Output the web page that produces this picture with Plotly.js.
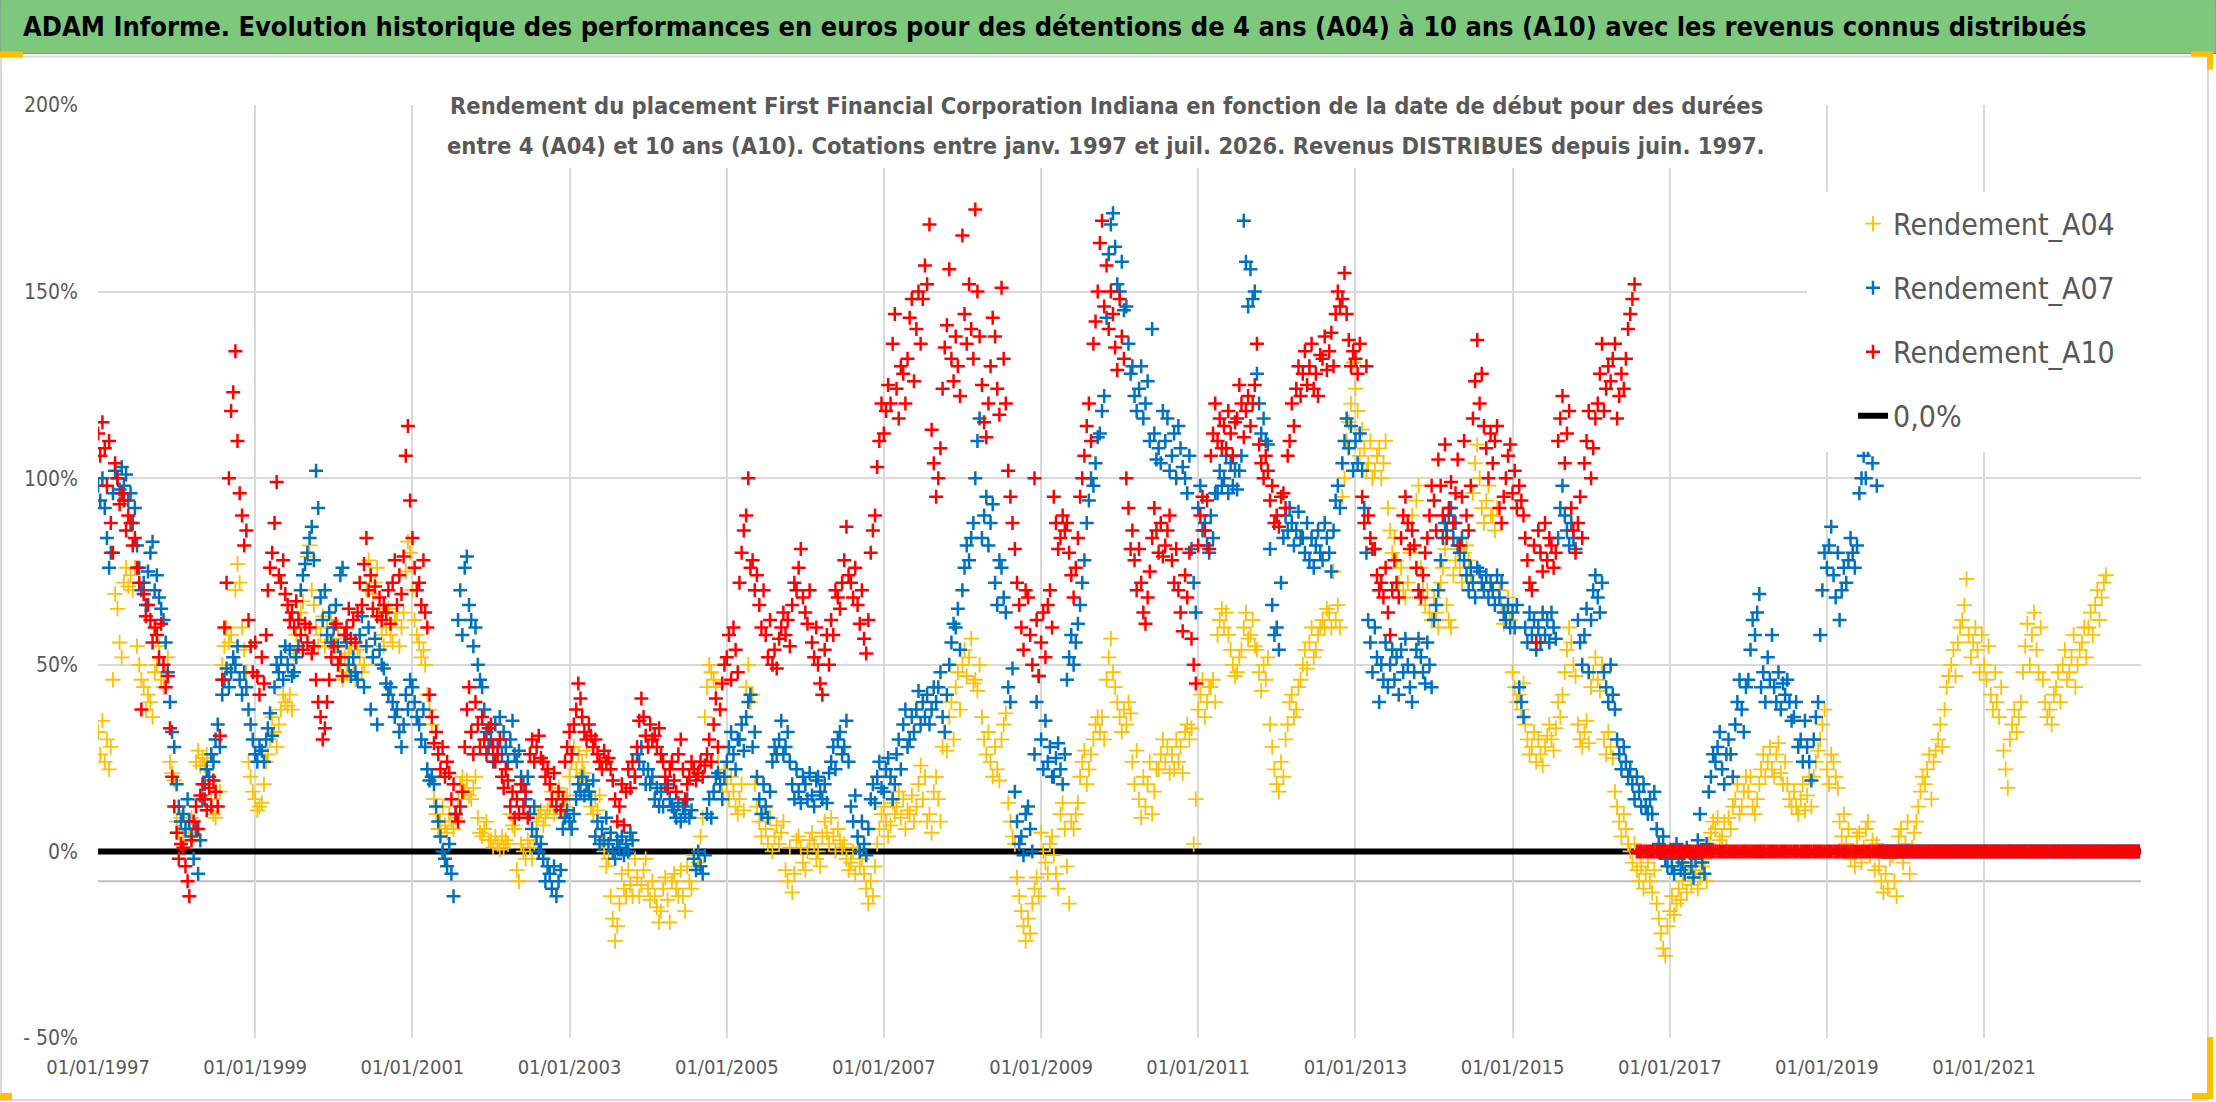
<!DOCTYPE html>
<html>
<head>
<meta charset="utf-8">
<script src="https://cdn.plot.ly/plotly-3.0.1.min.js"></script>
<style>
  html, body { margin: 0; padding: 0; background: #fff; }
  #chart { width: 2216px; height: 1102px; }
</style>
</head>
<body>
<div id="chart"></div>
<script>
// Rendement par date de début, en %, 3 lectures par mois à partir de janv. 1997
const a04 = [
  // 1997
  32,26,35, 24,30,22, 28,46,69, 65,56,52, 72,76,71, 74,70,76, 55,50,46, 44,38,42, 40,36,48, 50,55,46, 44,48,52, 24,21,19,
  // 1998
  8,5,9, 4,6,8, 5,9,4, 24,27,23, 25,23,26, 18,14,10, 9,12,16, 50,55,60, 56,58,52, 70,77,72, 60,54,48, 24,20,16,
  // 1999
  14,11,12, 13,18,24, 26,30,36, 32,28,34, 38,42,40, 39,42,38, 53,58,62, 64,67,60, 79,82,70, 66,60,55, 58,63,55, 60,56,62,
  // 2000
  57,55,60, 50,46,52, 48,53,55, 50,46,54, 52,48,50, 70,78,74, 69,72,76, 64,58,55, 60,65,58, 56,62,64, 55,60,64, 75,83,80,
  // 2001
  70,62,58, 56,52,54, 50,42,38, 34,14,10, 6,8,12, 7,5,10, 8,6,9, 14,18,20, 16,19,15, 14,17,20, 9,5,4, 6,8,3,
  // 2002
  3,1,4, 2,0.5,4, 1,3,2, 10,7,6, -5,-8,2, 0,-2,3, 1,-2,2, 8,10,11, 7,9,11, 12,16,10, 14,17,11, 9,12,15,
  // 2003
  20,24,28, 22,26,20, 24,21,27, 16,12,10, 14,11,15, 3,0,-4, -2,-12,-18, -24,-20,-14, -6,-10,-12, -5,-9,-12, -2,-7,-12, -9,-5,-2,
  // 2004
  -10,-13,-8, -12,-15,-19, -16,-10,-7, -13,-19,-8, -6,-10,-12, -5,-12,-16, -4,-8,-10, -1,-5,-3, 4,9,36, 44,50,48, 46,44,24, 20,16,22,
  // 2005
  18,14,20, 16,12,10, 14,18,11, 44,50,40, 42,18,12, 8,4,10, 6,2,9, 0,4,7, 2,5,8, -5,-8,1, -11,-6,3, 4,1,-3,
  // 2006
  -5,0,3, 5,2,-2, 0,-4,4, 8,5,2, 9,4,0, 6,3,1, 2,-2,-5, -3,0,-6, 1,-4,-2, -6,-10,-14, -8,-12,-4, 2,6,10,
  // 2007
  12,8,4, 7,13,10, 12,16,9, 14,6,11, 10,15,8, 12,18,23, 14,20,8, 10,5,16, 20,14,8, 28,32,27, 36,40,30, 44,48,38,
  // 2008
  50,54,47, 52,57,45, 46,43,50, 36,30,26, 32,24,20, 28,22,19, 30,34,37, 13,8,4, 2,-7,-12, -16,-20,-24, -18,-22,-14, -10,-7,-12,
  // 2009
  5,0,-3, -6,2,4, -1,-6,-10, 10,13,6, -4,-14,8, 6,10,13, 20,24,27, 18,22,26, 30,34,36, 32,36,30, 46,52,57, 48,44,40,
  // 2010
  36,32,38, 34,40,37, 24,18,27, 14,9,20, 12,18,24, 10,16,22, 22,26,30, 24,28,21, 26,22,30, 24,28,21, 32,34,30, 33,2,14,
  // 2011
  38,42,46, 36,40,44, 44,46,40, 58,62,65, 60,64,58, 54,50,47, 48,52,54, 60,64,57, 58,62,55, 54,48,43, 50,46,52, 34,28,22,
  // 2012
  18,16,24, 20,30,34, 40,42,36, 38,44,46, 50,54,49, 56,60,52, 54,58,60, 62,60,65, 64,60,75, 62,66,60, 95,100,110, 115,120,131,
  // 2013
  124,118,106, 113,108,102, 104,110,100, 102,106,108, 100,104,110, 92,86,80, 84,78,72, 76,70,68, 72,80,90, 82,94,98, 76,70,66, 70,64,62,
  // 2014
  68,64,60, 72,76,81, 66,62,60, 74,78,81, 76,72,80, 82,78,74, 96,104,109, 100,92,88, 94,98,90, 90,86,92, 70,66,61, 64,68,62,
  // 2015
  48,44,40, 42,38,45, 34,30,26, 28,32,24, 30,26,23, 28,31,34, 30,27,33, 40,36,42, 48,54,60, 56,50,47, 34,30,28, 32,35,29,
  // 2016
  44,48,52, 46,43,50, 30,26,32, 28,25,16, 12,8,4, 10,6,2, 0,-3,2, -5,-8,-4, -10,-6,-3, -8,-11,-5, -14,-18,-22, -26,-28,-20,
  // 2017
  -16,-12,-17, -14,-10,-13, -8,-4,-11, -6,-9,-3, -5,-10,-7, -4,-2,-8, 2,5,8, 6,9,3, 4,8,1, 9,6,12, 14,18,10, 12,16,20,
  // 2018
  16,20,12, 10,14,18, 22,26,20, 24,28,22, 20,26,29, 21,18,24, 18,14,12, 16,12,10, 14,18,11, 15,20,12, 20,24,27, 30,34,38,
  // 2019
  22,18,26, 24,20,17, 8,4,10, 2,6,-2, 0,-4,4, 5,-3,1, 6,8,-1, 3,-5,2, -4,-8,-11, -6,-10,-2, -1,-8,-12, 4,6,-3,
  // 2020
  2,8,-6, 1,5,8, 12,16,20, 18,22,26, 14,24,27, 30,34,28, 38,44,47, 50,54,47, 56,60,62, 66,73,58, 52,56,60, 54,48,58,
  // 2021
  50,46,55, 42,38,48, 40,36,44, 27,22,17, 30,34,38, 32,36,40, 48,55,61, 50,58,64, 54,48,60, 46,40,36, 38,34,42, 44,48,40,
  // 2022
  50,54,46, 48,52,58, 44,50,54, 56,60,52, 60,64,58, 66,70,62, 68,72,74
];

const a07 = [
  // 1997
  98,94,100, 92,84,76, 80,96,102, 100,97,103, 98,101,94, 96,88,92, 82,76,70, 72,66,75, 80,83,70, 74,68,65, 62,56,48, 40,32,28,
  // 1998
  18,12,8, 10,6,14, 8,4,-2, 6,-6,3, 14,18,22, 20,26,24, 30,34,28, 42,46,49, 44,48,52, 50,55,46, 42,48,44, 38,34,30,
  // 1999
  26,24,28, 27,24,30, 33,37,31, 44,50,48, 52,46,55, 50,54,47, 48,52,55, 70,74,77, 80,84,87, 78,102,92, 68,62,70, 58,64,56,
  // 2000
  60,66,55, 74,76,58, 56,50,47, 52,48,46, 58,63,44, 55,60,38, 52,57,34, 54,50,49, 45,42,44, 40,36,38, 32,28,34, 42,38,46,
  // 2001
  44,40,36, 34,30,38, 28,22,19, 20,18,12, 8,4,0, -2,-4,2, -6,-12,10, 62,70,58, 76,79,66, 62,55,60, 50,46,44, 38,32,28,
  // 2002
  30,24,34, 28,36,26, 32,28,24, 30,35,26, 24,27,20, 18,14,20, 10,6,12, 4,0,2, -2,-8,-4, -6,-10,-4, -12,-8,-5, 6,9,11,
  // 2003
  8,6,10, 14,18,16, 20,15,18, 16,14,19, 4,8,2, 6,3,9, 2,5,0, -2,3,1, 4,-1,2, 0,5,3, 20,26,24, 28,22,18,
  // 2004
  22,18,20, 14,17,12, 16,12,18, 18,14,12, 11,9,13, 8,12,10, 14,9,11, -2,-5,0, -4,-6,-1, 10,14,9, 16,20,21, 18,14,20,
  // 2005
  24,28,32, 26,22,30, 30,34,27, 36,40,42, 28,32,20, 14,10,18, 12,9,16, 24,28,26, 30,35,26, 28,32,24, 18,14,22, 16,13,20,
  // 2006
  18,14,21, 15,12,19, 20,16,14, 18,13,21, 24,28,22, 30,32,26, 28,35,24, 12,8,15, 4,0,8, 2,-1,6, 14,18,13, 20,24,17,
  // 2007
  16,22,25, 20,14,18, 26,30,22, 34,38,28, 30,36,32, 38,43,34, 40,36,42, 34,38,44, 40,44,48, 36,32,42, 50,56,61, 60,65,54,
  // 2008
  70,76,82, 78,84,88, 100,110,116, 84,90,95, 82,88,93, 72,66,78, 76,68,64, 44,40,49, 16,8,2, 4,-1,10, 12,6,0, 26,40,47,
  // 2009
  30,22,35, 24,28,20, 20,25,29, 22,18,26, 46,52,58, 50,56,61, 66,72,78, 88,94,100, 98,104,111, 112,118,122, 143,160,168, 171,162,152,
  // 2010
  150,158,145, 146,136,128, 130,122,118, 124,130,116, 120,126,110, 140,112,105, 108,104,118, 110,116,102, 106,112,100, 114,108,103, 100,96,106, 81,72,64,
  // 2011
  92,98,86, 88,82,80, 90,84,96, 96,102,98, 100,106,96, 104,98,102, 97,102,106, 169,158,146, 156,148,150, 128,120,112, 116,110,109, 81,66,58,
  // 2012
  60,54,72, 84,90,86, 92,88,82, 86,91,84, 84,80,88, 78,84,76, 82,86,80, 78,88,84, 80,75,86, 94,98,92, 104,110,116, 108,114,102,
  // 2013
  110,104,112, 102,92,80, 62,56,48, 60,52,40, 50,46,56, 44,50,54, 46,52,42, 54,48,57, 50,44,40, 48,54,57, 52,48,45, 56,50,44,
  // 2014
  62,66,70, 78,84,88, 86,90,92, 84,88,82, 80,84,78, 74,70,76, 72,68,76, 75,72,70, 74,68,72, 70,66,74, 68,72,64, 62,66,60,
  // 2015
  64,60,66, 44,40,36, 60,56,64, 58,62,54, 60,56,64, 58,62,56, 64,60,57, 84,92,98, 90,86,82, 88,84,81, 62,56,50, 58,65,48,
  // 2016
  62,70,74, 68,64,72, 48,44,40, 50,42,38, 30,26,22, 28,24,20, 22,18,14, 20,16,12, 18,12,10, 14,10,16, 6,2,0, 4,-2,-4,
  // 2017
  0,-4,-6, 2,-2,-5, -3,-6,1, 0,-4,-7, -2,3,10, -3,-6,2, 16,20,26, 24,28,32, 22,18,26, 30,26,20, 34,40,46, 38,32,44,
  // 2018
  46,54,62, 58,64,69, 44,48,40, 52,46,58, 44,40,48, 38,45,42, 46,40,35, 36,40,28, 30,24,35, 28,24,19, 30,36,40, 58,70,80,
  // 2019
  76,82,87, 74,68,80, 62,70,76, 72,78,84, 80,76,82, 96,100,106, 100,108,112, 104,110,98, 0,0,0, 0,0,0, 0,0,0, 0,0,0,
  // 2020
  0,0,0, 0,0,0, 0,0,0, 0,0,0, 0,0,0, 0,0,0, 0,0,0, 0,0,0, 0,0,0, 0,0,0, 0,0,0, 0,0,0,
  // 2021
  0,0,0, 0,0,0, 0,0,0, 0,0,0, 0,0,0, 0,0,0, 0,0,0, 0,0,0, 0,0,0, 0,0,0, 0,0,0, 0,0,0,
  // 2022
  0,0,0, 0,0,0, 0,0,0, 0,0,0, 0,0,0, 0,0,0, 0,0,0, 0,0,0, 0,0,0, 0,0,0, 0,0,0, 0,0,0
];

const a10 = [
  // 1997
  112,106,115, 108,98,110, 88,80,104, 100,93,96, 94,86,90, 88,82,84, 76,72,38, 69,63,66, 62,56,60, 58,52,61, 50,44,47, 33,20,12,
  // 1998
  5,-2,2, 1,-4,-8, -12,3,8, 12,6,15, 18,14,11, 17,12,19, 16,12,31, 46,60,72, 100,118,123, 134,110,96, 90,82,86, 62,55,48,
  // 1999
  56,47,42, 52,45,58, 70,76,80, 88,99,74, 72,78,69, 66,62,64, 60,67,62, 58,54,61, 56,60,53, 55,46,40, 36,30,33, 40,46,52,
  // 2000
  55,61,50, 52,47,58, 60,65,57, 62,56,64, 72,66,77, 84,70,74, 65,71,63, 68,62,66, 64,70,61, 72,78,66, 74,69,79, 106,114,94,
  // 2001
  84,76,70, 72,66,78, 64,60,42, 36,29,32, 26,22,28, 20,24,21, 14,18,10, 8,12,16, 28,38,44, 32,26,40, 34,28,36, 30,26,33,
  // 2002
  34,28,24, 26,30,20, 17,22,19, 12,16,9, 14,10,18, 12,16,9, 26,30,24, 28,31,25, 24,20,22, 18,14,21, 12,16,11, 14,24,28,
  // 2003
  32,26,34, 38,45,41, 36,32,30, 34,31,28, 30,26,24, 22,27,24, 25,22,19, 14,8,12, 18,7,16, 22,17,24, 20,28,35, 41,36,31,
  // 2004
  28,34,30, 31,28,33, 26,24,20, 17,22,24, 19,16,26, 30,22,14, 18,20,24, 22,19,21, 24,20,23, 26,30,24, 34,41,28, 38,45,50,
  // 2005
  52,58,46, 60,54,48, 72,80,86, 90,100,76, 78,70,74, 66,60,70, 58,52,62, 50,54,49, 57,60,64, 58,62,55, 66,72,70, 76,81,68,
  // 2006
  64,61,70, 56,52,60, 50,45,42, 54,58,50, 62,58,70, 68,65,72, 78,87,74, 72,68,76, 66,61,70, 57,53,62, 80,86,90, 103,110,120,
  // 2007
  112,118,125, 120,136,144, 124,116,130, 128,120,132, 143,148,126, 140,150,136, 148,157,152, 168,113,104, 95,100,108, 124,135,141, 156,132,126, 138,130,122,
  // 2008
  165,144,136, 152,140,132, 172,150,138, 125,115,111, 120,130,143, 138,124,117, 151,132,120, 102,95,88, 81,72,66, 60,54,70, 68,58,50, 100,62,47,
  // 2009
  56,64,52, 66,70,60, 95,88,81, 84,90,86, 88,80,74, 68,76,84, 95,100,106, 114,120,110, 136,142,150, 163,169,146, 157,140,150, 144,135,129,
  // 2010
  148,138,132, 100,92,81, 86,78,70, 81,72,64, 61,68,75, 84,92,86, 80,88,79, 82,86,90, 78,72,81, 70,64,59, 74,68,80, 57,50,45,
  // 2011
  82,90,95, 86,94,81, 106,112,120, 110,116,108, 114,108,118, 112,106,115, 116,125,120, 111,118,122, 114,120,125, 136,109,104, 100,106,102, 94,98,88,
  // 2012
  90,87,95, 96,92,106, 110,120,114, 124,130,122, 128,134,125, 130,136,124, 128,122,133, 132,138,129, 134,139,130, 144,150,146, 148,155,144, 137,130,134,
  // 2013
  132,128,136, 95,88,130, 90,84,81, 81,74,70, 72,68,76, 64,58,70, 78,72,68, 84,90,95, 88,81,86, 82,76,70, 68,74,80, 84,90,98,
  // 2014
  94,86,105, 98,90,109, 84,92,99, 88,96,105, 82,95,110, 90,86,98, 116,126,137, 120,128,114, 108,100,112, 104,110,114, 92,88,95, 100,106,109,
  // 2015
  96,102,92, 98,94,90, 84,78,72, 70,82,56, 86,80,75, 88,78,84, 82,76,80, 110,116,122, 104,112,118, 92,86,80, 88,95,84, 104,110,118,
  // 2016
  100,108,116, 120,128,136, 118,124,130, 126,132,136, 116,122,128, 124,132,140, 144,148,152, 0,0,0, 0,0,0, 0,0,0, 0,0,0, 0,0,0,
  // 2017
  0,0,0, 0,0,0, 0,0,0, 0,0,0, 0,0,0, 0,0,0, 0,0,0, 0,0,0, 0,0,0, 0,0,0, 0,0,0, 0,0,0,
  // 2018
  0,0,0, 0,0,0, 0,0,0, 0,0,0, 0,0,0, 0,0,0, 0,0,0, 0,0,0, 0,0,0, 0,0,0, 0,0,0, 0,0,0,
  // 2019
  0,0,0, 0,0,0, 0,0,0, 0,0,0, 0,0,0, 0,0,0, 0,0,0, 0,0,0, 0,0,0, 0,0,0, 0,0,0, 0,0,0,
  // 2020
  0,0,0, 0,0,0, 0,0,0, 0,0,0, 0,0,0, 0,0,0, 0,0,0, 0,0,0, 0,0,0, 0,0,0, 0,0,0, 0,0,0,
  // 2021
  0,0,0, 0,0,0, 0,0,0, 0,0,0, 0,0,0, 0,0,0, 0,0,0, 0,0,0, 0,0,0, 0,0,0, 0,0,0, 0,0,0,
  // 2022
  0,0,0, 0,0,0, 0,0,0, 0,0,0, 0,0,0, 0,0,0, 0,0,0, 0,0,0, 0,0,0, 0,0,0, 0,0,0, 0,0,0
];

const zeroDates = ['1997-01-01', '2023-01-01'];
const zeroVals = [0, 0];

const yTicks = [-50, 0, 50, 100, 150, 200];
const yLabels = ['- 50%', '0%', '50%', '100%', '150%', '200%'];

const titleText = 'ADAM Informe. Evolution historique des performances en euros pour des détentions de 4 ans (A04) à 10 ans (A10) avec les revenus connus distribués';
const subLine1 = 'Rendement du placement First Financial Corporation Indiana en fonction de la date de début pour des durées';
const subLine2 = 'entre 4 (A04) et 10 ans (A10). Cotations entre janv. 1997 et juil. 2026. Revenus DISTRIBUES depuis juin. 1997.';

// 3 points par mois : le 1er, le 11 et le 21
function datesFor(vals) {
    let out = [];
    for (let i = 0; i < vals.length; i++) {
        let m = Math.floor(i / 3);
        let d = 1 + (i % 3) * 10;
        out.push(new Date(Date.UTC(1997, m, d)).toISOString().slice(0, 10));
    }
    return out;
}

const FONT = "'Liberation Sans Narrow', 'Arial Narrow', 'DejaVu Sans Condensed', 'Liberation Sans', sans-serif";
const GREY = '#595959';

// pixel -> paper
const PL = 98, PR = 2141, PT = 105.4, PB = 1038;
const px = (x) => (x - PL) / (PR - PL);
const py = (y) => (PB - y) / (PB - PT);

function rect(x0, y0, x1, y1, fill, line) {
    return {
        type: 'rect', xref: 'paper', yref: 'paper', layer: 'above',
        x0: px(x0), x1: px(x1), y0: py(y1), y1: py(y0),
        fillcolor: fill, line: line || { width: 0 }
    };
}

function markerTrace(vals, name, color, size, lw, rank) {
    return {
        type: 'scatter', mode: 'markers', name: name,
        x: datesFor(vals), y: vals,
        legendgroup: name, legendrank: rank,
        marker: { symbol: 'cross-thin', size: size, color: color, line: { color: color, width: lw } },
        hoverinfo: 'skip'
    };
}

const data = [
    {
        type: 'scatter', mode: 'lines', name: '0,0%',
        x: zeroDates, y: zeroVals,
        legendgroup: 'zero', legendrank: 4,
        line: { color: '#000000', width: 6 },
        hoverinfo: 'skip'
    },
    markerTrace(a04, 'Rendement_A04', '#FFC000', 11, 1.8, 1),
    markerTrace(a07, 'Rendement_A07', '#0070C0', 10, 2.5, 2),
    markerTrace(a10, 'Rendement_A10', '#FF0000', 10, 2.5, 3)
];

const layout = {
    width: 2216, height: 1102,
    margin: { l: PL, r: 2216 - PR, t: PT, b: 1102 - PB, pad: 0 },
    paper_bgcolor: '#ffffff', plot_bgcolor: '#ffffff',
    showlegend: true,
    title: {
        text: titleText,
        font: { family: FONT, size: 27, color: '#000000', weight: 'bold' },
        xref: 'container', yref: 'container',
        x: 23 / 2216, xanchor: 'left',
        y: 1 - 27 / 1102, yanchor: 'middle'
    },
    xaxis: {
        type: 'date',
        range: ['1996-12-31 12:00', '2022-12-31'],
        tick0: '1997-01-01', dtick: 'M24',
        tickformat: '%d/%m/%Y',
        showgrid: true, gridcolor: '#D9D9D9', gridwidth: 2,
        showline: false, zeroline: false, ticks: '',
        ticklabelstandoff: 15,
        tickfont: { family: FONT, size: 20, color: GREY }
    },
    yaxis: {
        range: [-50, 200],
        tickvals: yTicks, ticktext: yLabels,
        showgrid: true, gridcolor: '#D9D9D9', gridwidth: 2,
        showline: false, zeroline: false, ticks: '',
        ticklabelstandoff: 19,
        tickfont: { family: FONT, size: 21, color: GREY }
    },
    legend: {
        x: px(1853), xanchor: 'left',
        y: py(198), yanchor: 'top',
        bgcolor: 'rgba(0,0,0,0)',
        font: { family: FONT, size: 30, color: GREY },
        tracegroupgap: 22,
        traceorder: 'grouped'
    },
    annotations: [
        { text: subLine1, xref: 'paper', yref: 'paper', x: px(1106), y: py(106), xanchor: 'center', yanchor: 'middle',
          showarrow: false, font: { family: FONT, size: 23.5, color: GREY, weight: 'bold' } },
        { text: subLine2, xref: 'paper', yref: 'paper', x: px(1106), y: py(146), xanchor: 'center', yanchor: 'middle',
          showarrow: false, font: { family: FONT, size: 23.5, color: GREY, weight: 'bold' } }
    ],
    shapes: [
        // ligne grise horizontale sous le zéro
        { type: 'line', xref: 'paper', yref: 'y', x0: 0, x1: 1, y0: -8, y1: -8, layer: 'below',
          line: { color: '#BFBFBF', width: 2 } },
        // bandeau vert du titre
        rect(0, 0, 2216, 54, '#7EC87E', { width: 1, color: '#8C8C8C' }),
        // cadre du graphique
        rect(1, 57, 2208, 1100, 'rgba(0,0,0,0)', { width: 2, color: '#D9D9D9' }),
        // fonds blancs du sous-titre et de la légende
        rect(440, 86, 1768, 168, '#ffffff'),
        rect(1807, 192, 2141, 452, '#ffffff'),
        // poignées de sélection
        rect(0, 52, 23, 58, '#FFC000'),
        rect(2191, 52, 2213, 57, '#FFC000'),
        rect(2207, 52, 2213, 70, '#FFC000'),
        rect(0, 1093, 12, 1100, '#FFC000'),
        rect(2207, 1037, 2213, 1099, '#FFC000'),
        rect(2192, 1093, 2213, 1099, '#FFC000')
    ]
};

Plotly.newPlot('chart', data, layout, { displayModeBar: false, staticPlot: true });
</script>
</body>
</html>
